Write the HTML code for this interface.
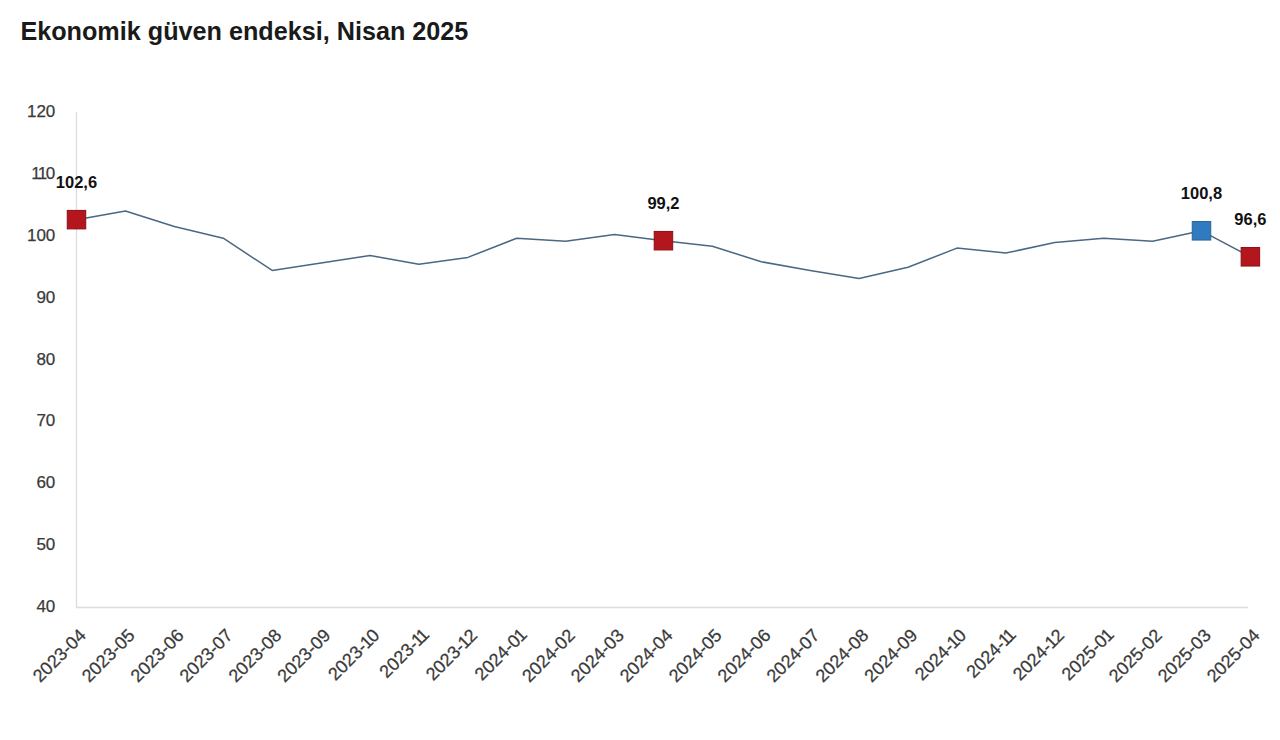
<!DOCTYPE html>
<html lang="tr"><head><meta charset="utf-8"><title>Ekonomik güven endeksi, Nisan 2025</title>
<style>
html,body{margin:0;padding:0;background:#fff;}
svg{display:block;}
.t{font:bold 25.2px "Liberation Sans", Arial, sans-serif;fill:#1a1a1a;}
.yl{font:17px "Liberation Sans", Arial, sans-serif;fill:#3a3a3a;stroke:#3a3a3a;stroke-width:0.25;text-anchor:end;}
.xl{font:18px "Liberation Sans", Arial, sans-serif;fill:#3a3a3a;stroke:#3a3a3a;stroke-width:0.25;text-anchor:end;}
.dl{font:bold 16.5px "Liberation Sans", Arial, sans-serif;fill:#111;text-anchor:middle;}
.ax{fill:none;stroke:#dcdcdc;stroke-width:1.3;}
.ln{fill:none;stroke:#4a6882;stroke-width:1.5;stroke-linejoin:round;}
.mr{fill:#b3161c;stroke:#8c0f14;stroke-width:1;}
.mb{fill:#307bbf;stroke:#28639a;stroke-width:1;}
</style></head>
<body><svg width="1280" height="740" viewBox="0 0 1280 740">
<rect width="1280" height="740" fill="#fff"/>
<text x="20.4" y="40" class="t">Ekonomik güven endeksi, Nisan 2025</text>
<path d="M76.5 112V607.5H1248" class="ax"/>
<text x="55.3" y="612.00" class="yl">40</text>
<text x="55.3" y="550.12" class="yl">50</text>
<text x="55.3" y="488.25" class="yl">60</text>
<text x="55.3" y="426.38" class="yl">70</text>
<text x="55.3" y="364.50" class="yl">80</text>
<text x="55.3" y="302.62" class="yl">90</text>
<text x="55.3" y="240.75" class="yl">100</text>
<text x="55.3" y="178.88" class="yl">1<tspan dx="-1.5">1</tspan><tspan dx="-1.5">0</tspan></text>
<text x="55.3" y="117.00" class="yl">120</text>
<text transform="translate(87.00 636.5) rotate(-45)" class="xl">2023-04</text>
<text transform="translate(135.91 636.5) rotate(-45)" class="xl">2023-05</text>
<text transform="translate(184.82 636.5) rotate(-45)" class="xl">2023-06</text>
<text transform="translate(233.74 636.5) rotate(-45)" class="xl">2023-07</text>
<text transform="translate(282.65 636.5) rotate(-45)" class="xl">2023-08</text>
<text transform="translate(331.56 636.5) rotate(-45)" class="xl">2023-09</text>
<text transform="translate(380.48 636.5) rotate(-45)" class="xl">2023-<tspan dx="-1.15">1</tspan><tspan dx="-1.15">0</tspan></text>
<text transform="translate(429.39 636.5) rotate(-45)" x="1.15" class="xl">2023-<tspan dx="-1.15">1</tspan><tspan dx="-2.3">1</tspan></text>
<text transform="translate(478.30 636.5) rotate(-45)" class="xl">2023-<tspan dx="-1.15">1</tspan><tspan dx="-1.15">2</tspan></text>
<text transform="translate(527.21 636.5) rotate(-45)" x="1.15" class="xl">2024-0<tspan dx="-1.15">1</tspan></text>
<text transform="translate(576.12 636.5) rotate(-45)" class="xl">2024-02</text>
<text transform="translate(625.04 636.5) rotate(-45)" class="xl">2024-03</text>
<text transform="translate(673.95 636.5) rotate(-45)" class="xl">2024-04</text>
<text transform="translate(722.86 636.5) rotate(-45)" class="xl">2024-05</text>
<text transform="translate(771.77 636.5) rotate(-45)" class="xl">2024-06</text>
<text transform="translate(820.69 636.5) rotate(-45)" class="xl">2024-07</text>
<text transform="translate(869.60 636.5) rotate(-45)" class="xl">2024-08</text>
<text transform="translate(918.51 636.5) rotate(-45)" class="xl">2024-09</text>
<text transform="translate(967.43 636.5) rotate(-45)" class="xl">2024-<tspan dx="-1.15">1</tspan><tspan dx="-1.15">0</tspan></text>
<text transform="translate(1016.34 636.5) rotate(-45)" x="1.15" class="xl">2024-<tspan dx="-1.15">1</tspan><tspan dx="-2.3">1</tspan></text>
<text transform="translate(1065.25 636.5) rotate(-45)" class="xl">2024-<tspan dx="-1.15">1</tspan><tspan dx="-1.15">2</tspan></text>
<text transform="translate(1114.16 636.5) rotate(-45)" x="1.15" class="xl">2025-0<tspan dx="-1.15">1</tspan></text>
<text transform="translate(1163.08 636.5) rotate(-45)" class="xl">2025-02</text>
<text transform="translate(1211.99 636.5) rotate(-45)" class="xl">2025-03</text>
<text transform="translate(1260.90 636.5) rotate(-45)" class="xl">2025-04</text>
<polyline points="76.50,219.66 125.41,211.00 174.32,226.47 223.24,238.23 272.15,270.40 321.06,262.98 369.98,255.55 418.89,264.21 467.80,257.41 516.71,238.23 565.62,241.32 614.54,234.51 663.45,240.70 712.36,246.27 761.27,261.74 810.19,270.40 859.10,278.44 908.01,267.31 956.93,248.12 1005.84,253.07 1054.75,242.56 1103.66,238.23 1152.58,241.32 1201.49,230.80 1250.40,256.79" class="ln"/>
<rect x="67.25" y="210.41" width="18.5" height="18.5" class="mr"/>
<text x="76.50" y="187.66" class="dl">102,6</text>
<rect x="654.20" y="231.45" width="18.5" height="18.5" class="mr"/>
<text x="663.45" y="208.70" class="dl">99,2</text>
<rect x="1192.24" y="221.55" width="18.5" height="18.5" class="mb"/>
<text x="1201.49" y="198.80" class="dl">100,8</text>
<rect x="1241.15" y="247.54" width="18.5" height="18.5" class="mr"/>
<text x="1250.40" y="224.79" class="dl">96,6</text>
</svg></body></html>
